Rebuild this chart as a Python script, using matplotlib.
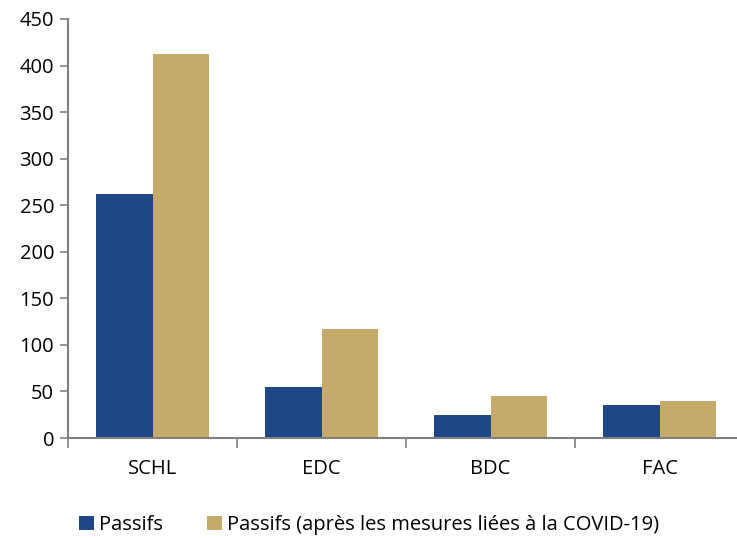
import matplotlib
matplotlib.use("Agg")
import matplotlib.pyplot as plt
import numpy as np

categories = ["SCHL", "EDC", "BDC", "FAC"]
passifs = [262, 55, 25, 35]
passifs_covid = [412, 117, 45, 40]
series_labels = ["Passifs", "Passifs (après les mesures liées à la COVID-19)"]
yticks = [0, 50, 100, 150, 200, 250, 300, 350, 400, 450]

plt.rcParams['font.family'] = ['Open Sans', 'DejaVu Sans']

fig = plt.figure(figsize=(7.37, 5.38), dpi=100)
ax = fig.add_axes([68/737, 1-438/538, 676/737, 419/538])

blue = "#1F4686"
gold = "#C5AA6A"
x = np.arange(len(categories))
w = 0.335
ax.bar(x - w/2, passifs, w, color=blue, label=series_labels[0])
ax.bar(x + w/2, passifs_covid, w, color=gold, label=series_labels[1])

ax.set_xlim(-0.5, len(categories) - 0.5)
ax.set_ylim(0, 450)
ax.set_yticks(yticks)
ax.set_yticklabels([str(v) for v in yticks], fontsize=14.5)
ax.set_xticks(x)
ax.set_xticklabels(categories, fontsize=14.5)
ax.tick_params(axis='x', length=0, pad=15)
ax.set_xticks(np.arange(-0.5, len(categories) + 0.5, 1), minor=True)
ax.tick_params(axis='x', which='minor', length=7, color="#808080", width=1.2)
ax.tick_params(axis='y', length=6, color="#808080", width=1.2, pad=4)

for s in ["top", "right"]:
    ax.spines[s].set_visible(False)
for s in ["left", "bottom"]:
    ax.spines[s].set_color("#808080")
    ax.spines[s].set_linewidth(1.5)

leg = fig.legend(loc="center", bbox_to_anchor=(369/737, 1-525/538), ncol=2,
                 frameon=False, fontsize=14.5, handlelength=0.72, handleheight=0.72,
                 handletextpad=0.25, columnspacing=2.2)

fig.savefig("out.png", dpi=100)
